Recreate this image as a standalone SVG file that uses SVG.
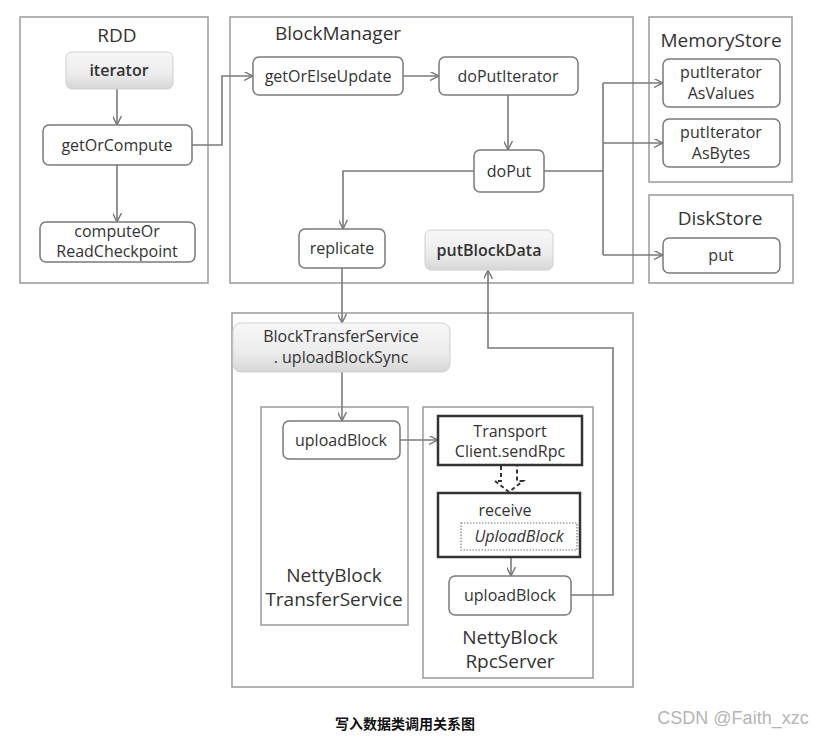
<svg xmlns="http://www.w3.org/2000/svg" width="829" height="738" viewBox="0 0 829 738">
<style>
.frame{fill:none;stroke:#9a9a9a;stroke-width:1.5}
.node{fill:#fff;stroke:#7a7a7a;stroke-width:1.5}
.grad{fill:url(#g);stroke:#cfcfcf;stroke-width:1}
.thick{fill:#fff;stroke:#333;stroke-width:2.5}
.dot{fill:none;stroke:#777;stroke-width:1.2;stroke-dasharray:1.5 1.5}
.t{font-family:"Open Sans","DejaVu Sans",sans-serif;font-size:16px;fill:#333;text-anchor:middle}
.b{font-weight:600}
.title{font-family:"Open Sans","DejaVu Sans",sans-serif;font-size:19px;fill:#333;text-anchor:middle}
.c{fill:none;stroke:#7a7a7a;stroke-width:1.6}
.a{marker-end:url(#arr)}
</style>
<defs>
<linearGradient id="g" x1="0" y1="0" x2="0" y2="1">
<stop offset="0" stop-color="#f7f7f7"/>
<stop offset="0.6" stop-color="#ececec"/>
<stop offset="1" stop-color="#d6d6d6"/>
</linearGradient>
<marker id="arr" viewBox="0 0 10 10" refX="9" refY="5" markerWidth="9" markerHeight="9" markerUnits="userSpaceOnUse" orient="auto">
<path d="M0,0 L10,5 L0,10" fill="none" stroke="#7a7a7a" stroke-width="1.6"/>
</marker>
</defs>
<rect width="829" height="738" fill="#fff"/>

<g id="rdd">
<rect class="frame" x="20" y="17" width="188" height="266"/>
<text class="title" x="117" y="42">RDD</text>
</g>
<g id="blockmanager">
<rect class="frame" x="230" y="17" width="403" height="266"/>
<text class="title" x="338" y="40">BlockManager</text>
</g>
<g id="memorystore">
<rect class="frame" x="649" y="17" width="143" height="165"/>
<text class="title" x="721" y="47">MemoryStore</text>
</g>
<g id="diskstore">
<rect class="frame" x="649" y="195" width="144" height="88"/>
<text class="title" x="720" y="225">DiskStore</text>
</g>
<g id="transfer">
<rect class="frame" x="232" y="313" width="401" height="374"/>
</g>
<g id="nettytransfer">
<rect class="frame" x="261" y="407" width="147" height="218"/>
<text class="title" x="334" y="582">NettyBlock</text>
<text class="title" x="334" y="606">TransferService</text>
</g>
<g id="nettyrpc">
<rect class="frame" x="423" y="407" width="170" height="271"/>
<text class="title" x="510" y="644">NettyBlock</text>
<text class="title" x="510" y="668">RpcServer</text>
</g>

<g id="connectors">
<path class="c a" d="M117,89 V124"/>
<path class="c a" d="M117,165 V221"/>
<path class="c a" d="M192,145 H222 V76 H252"/>
<path class="c a" d="M403,76 H438"/>
<path class="c a" d="M508,95 V149"/>
<path class="c a" d="M474,171 H343 V228"/>
<path class="c" d="M544,171 H603 M603,83 V255"/>
<path class="c a" d="M603,83 H662"/>
<path class="c a" d="M603,143 H662"/>
<path class="c a" d="M603,255 H662"/>
<path class="c a" d="M342,268 V322"/>
<path class="c a" d="M342,372 V420"/>
<path class="c a" d="M400,440 H437"/>
<path class="c a" d="M511,557 V575"/>
<path class="c a" d="M571,595 H613 V348 H488 V271"/>
<path d="M501,466 V481 H495 L509,492 L523,481 H517 V466" fill="none" stroke="#333" stroke-width="2" stroke-dasharray="4 3"/>
</g>

<g id="iterator">
<rect class="grad" x="66" y="52" width="107" height="37" rx="6"/>
<text class="t b" x="119" y="76">iterator</text>
</g>
<g id="getOrCompute">
<rect class="node" x="43" y="125" width="149" height="40" rx="6"/>
<text class="t" x="117" y="151">getOrCompute</text>
</g>
<g id="computeOrReadCheckpoint">
<rect class="node" x="40" y="222" width="155" height="40" rx="6"/>
<text class="t" x="117" y="237">computeOr</text>
<text class="t" x="117" y="257">ReadCheckpoint</text>
</g>
<g id="getOrElseUpdate">
<rect class="node" x="253" y="57" width="150" height="38" rx="6"/>
<text class="t" x="328" y="82">getOrElseUpdate</text>
</g>
<g id="doPutIterator">
<rect class="node" x="439" y="57" width="139" height="38" rx="6"/>
<text class="t" x="508" y="82">doPutIterator</text>
</g>
<g id="doPut">
<rect class="node" x="474" y="150" width="70" height="42" rx="6"/>
<text class="t" x="509" y="177">doPut</text>
</g>
<g id="replicate">
<rect class="node" x="299" y="229" width="86" height="39" rx="6"/>
<text class="t" x="342" y="254">replicate</text>
</g>
<g id="putBlockData">
<rect class="grad" x="425" y="230" width="128" height="40" rx="6"/>
<text class="t b" x="489" y="256">putBlockData</text>
</g>
<g id="putIteratorAsValues">
<rect class="node" x="663" y="59" width="117" height="48" rx="6"/>
<text class="t" x="721" y="78">putIterator</text>
<text class="t" x="721" y="99">AsValues</text>
</g>
<g id="putIteratorAsBytes">
<rect class="node" x="663" y="119" width="117" height="48" rx="6"/>
<text class="t" x="721" y="138">putIterator</text>
<text class="t" x="721" y="159">AsBytes</text>
</g>
<g id="put">
<rect class="node" x="663" y="238" width="117" height="35" rx="6"/>
<text class="t" x="721" y="261">put</text>
</g>
<g id="uploadBlockSync">
<rect class="grad" x="233" y="323" width="217" height="49" rx="8"/>
<text class="t" x="341" y="342">BlockTransferService</text>
<text class="t" x="341" y="363">. uploadBlockSync</text>
</g>
<g id="uploadBlockClient">
<rect class="node" x="283" y="421" width="117" height="38" rx="6"/>
<text class="t" x="341" y="446">uploadBlock</text>
</g>
<g id="sendRpc">
<rect class="thick" x="438" y="416" width="144" height="49"/>
<text class="t" x="510" y="437">Transport</text>
<text class="t" x="510" y="457">Client.sendRpc</text>
</g>
<g id="receive">
<rect class="thick" x="438" y="493" width="142" height="64"/>
<text class="t" x="505" y="516">receive</text>
<rect class="dot" x="461" y="523" width="116" height="27"/>
<text class="t" x="519" y="542" font-style="italic">UploadBlock</text>
</g>
<g id="uploadBlockServer">
<rect class="node" x="449" y="576" width="122" height="39" rx="6"/>
<text class="t" x="510" y="601">uploadBlock</text>
</g>

<text x="405" y="729" font-family="'Noto Sans CJK SC',sans-serif" font-size="14" font-weight="bold" fill="#111" text-anchor="middle">写入数据类调用关系图</text>
<text x="733" y="724" font-family="'Liberation Sans',sans-serif" font-size="18" fill="#b5b5b5" text-anchor="middle">CSDN @Faith_xzc</text>
</svg>
